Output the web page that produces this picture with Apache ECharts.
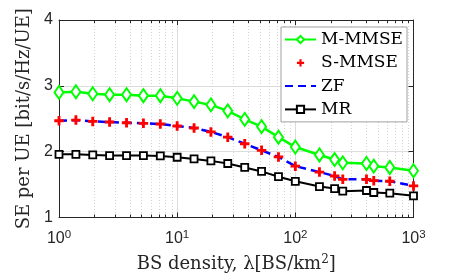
<!DOCTYPE html>
<html><head><meta charset="utf-8">
<script src="https://cdn.jsdelivr.net/npm/echarts@6/dist/echarts.min.js"></script>
<style>html,body{margin:0;padding:0;background:#fff}#c{width:457px;height:278px}</style>
</head><body><div id="c"></div>
<script>
const lambda = [1, 1.39, 1.93, 2.68, 3.73, 5.18, 7.2, 10, 13.9, 19.3, 26.8, 37.3, 51.8, 72, 100, 160, 215, 252, 400, 461, 630, 1000];
const mmmse = [2.90, 2.91, 2.88, 2.865, 2.865, 2.85, 2.85, 2.81, 2.76, 2.71, 2.62, 2.49, 2.38, 2.22, 2.07, 1.95, 1.88, 1.83, 1.82, 1.78, 1.76, 1.71];
const smmse = [2.47, 2.48, 2.46, 2.45, 2.44, 2.43, 2.42, 2.39, 2.36, 2.30, 2.22, 2.12, 2.02, 1.92, 1.78, 1.69, 1.63, 1.58, 1.58, 1.56, 1.55, 1.48];
const zf = [2.47, 2.48, 2.46, 2.45, 2.44, 2.43, 2.42, 2.39, 2.36, 2.30, 2.22, 2.12, 2.02, 1.92, 1.78, 1.69, 1.63, 1.58, 1.58, 1.56, 1.55, 1.48];
const mr = [1.96, 1.96, 1.95, 1.94, 1.94, 1.94, 1.935, 1.915, 1.89, 1.86, 1.82, 1.76, 1.70, 1.62, 1.55, 1.47, 1.44, 1.40, 1.41, 1.38, 1.37, 1.33];
const seriesNames = ['M-MMSE', 'S-MMSE', 'ZF', 'MR'];
const yTicks = [1, 2, 3, 4];

const pair = arr => lambda.map((x, i) => [x, arr[i]]);
const plusPath = 'path://M3.5,0H6.5V3.5H10V6.5H6.5V10H3.5V6.5H0V3.5H3.5Z';
const axisColor = '#262626';
const serif = 'DejaVu Serif';

const chart = echarts.init(document.getElementById('c'), null, {renderer: 'canvas'});
chart.setOption({
  animation: false,
  backgroundColor: '#fff',
  grid: {left: 59, right: 43.5, top: 20, bottom: 59, containLabel: false},
  legend: {
    left: 281, top: 27, orient: 'vertical',
    data: [
      {name: seriesNames[0]},
      {name: seriesNames[1]},
      {name: seriesNames[2], itemStyle: {opacity: 0}},
      {name: seriesNames[3]}
    ],
    backgroundColor: '#fff', borderColor: '#a0a0a0', borderWidth: 1,
    padding: [3.5, 4, 3.5, 3],
    itemWidth: 31, itemHeight: 9, itemGap: 5.3,
    textStyle: {fontFamily: serif, fontSize: 17, color: '#000', lineHeight: 18}
  },
  xAxis: [{
    type: 'log', logBase: 10, min: 1, max: 1000,
    axisLine: {show: true, lineStyle: {color: axisColor, width: 1}},
    axisTick: {show: true, inside: true, length: 5, lineStyle: {color: axisColor}},
    minorTick: {show: true, splitNumber: 9, length: 3, lineStyle: {color: axisColor}},
    splitLine: {show: true, lineStyle: {color: '#dcdcdc', width: 1}},
    minorSplitLine: {show: true, lineStyle: {color: '#d6d6d6', width: 1, type: [1, 2]}},
    axisLabel: {
      margin: 11,
      formatter: v => '{b|10}{s|' + Math.round(Math.log10(v)) + '}',
      rich: {
        b: {fontFamily: 'Liberation Sans', fontSize: 16, color: axisColor},
        s: {fontFamily: 'Liberation Sans', fontSize: 11.5, color: axisColor, padding: [0, 0, 9, 0]}
      }
    },
    name: '{a|BS density, λ[BS/km}{s|2}{a|]}',
    nameLocation: 'middle', nameGap: 36,
    nameTextStyle: {
      rich: {
        a: {fontFamily: serif, fontSize: 18, color: axisColor},
        s: {fontFamily: serif, fontSize: 12, color: axisColor, padding: [0, 0, 9, 0]}
      }
    }
  }, {
    type: 'log', logBase: 10, min: 1, max: 1000, position: 'top',
    axisLine: {show: true, onZero: false, lineStyle: {color: axisColor, width: 1}},
    axisTick: {show: true, inside: true, length: 5, lineStyle: {color: axisColor}},
    minorTick: {show: true, splitNumber: 9, length: 3, lineStyle: {color: axisColor}},
    splitLine: {show: false}, axisLabel: {show: false}
  }],
  yAxis: [{
    type: 'value', min: 1, max: 4, interval: 1,
    axisLine: {show: true, onZero: false, lineStyle: {color: axisColor, width: 1}},
    axisTick: {show: true, inside: true, length: 5, lineStyle: {color: axisColor}},
    splitLine: {show: true, lineStyle: {color: '#dcdcdc', width: 1}},
    axisLabel: {margin: 6, fontFamily: 'Liberation Sans', fontSize: 16, color: axisColor,
      formatter: v => yTicks.includes(v) ? String(v) : ''},
    name: 'SE per UE [bit/s/Hz/UE]',
    nameLocation: 'middle', nameGap: 22, nameRotate: 90,
    nameTextStyle: {fontFamily: serif, fontSize: 18, color: axisColor}
  }, {
    type: 'value', min: 1, max: 4, interval: 1, position: 'right',
    axisLine: {show: true, onZero: false, lineStyle: {color: axisColor, width: 1}},
    axisTick: {show: true, inside: true, length: 5, lineStyle: {color: axisColor}},
    splitLine: {show: false}, axisLabel: {show: false}
  }],
  series: [{
    name: seriesNames[0], type: 'line', data: pair(mmmse), z: 4,
    symbol: 'diamond', symbolSize: [9, 13],
    lineStyle: {color: '#00ff00', width: 2.5},
    itemStyle: {color: '#ffffff', borderColor: '#00ff00', borderWidth: 2}
  }, {
    name: seriesNames[1], type: 'line', data: pair(smmse), z: 3,
    symbol: plusPath, symbolSize: 9.5,
    lineStyle: {width: 0, opacity: 0, color: '#ff0000'},
    itemStyle: {color: '#ff0000', borderWidth: 0}
  }, {
    name: seriesNames[2], type: 'line', data: pair(zf), z: 2,
    symbol: 'none',
    lineStyle: {color: '#0000ff', width: 2.5, type: [8, 5]},
    itemStyle: {color: '#0000ff'}
  }, {
    name: seriesNames[3], type: 'line', data: pair(mr), z: 4,
    symbol: 'rect', symbolSize: 7,
    lineStyle: {color: '#000000', width: 2},
    itemStyle: {color: '#ffffff', borderColor: '#000000', borderWidth: 1.8}
  }]
});
</script></body></html>
